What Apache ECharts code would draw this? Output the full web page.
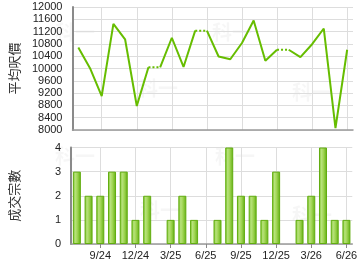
<!DOCTYPE html>
<html><head><meta charset="utf-8">
<script src="https://cdn.jsdelivr.net/npm/echarts@6/dist/echarts.min.js"></script>
<style>html,body{margin:0;padding:0;background:#fff}#c{width:360px;height:270px}</style>
</head><body><div id="c"></div>
<script>
const months = ['7/24','8/24','9/24','10/24','11/24','12/24','1/25','2/25','3/25','4/25','5/25','6/25','7/25','8/25','9/25','10/25','11/25','12/25','1/26','2/26','3/26','4/26','5/26','6/26'];
// average price per sq ft; null = no transaction that month (carried forward, dotted)
const avgPrice = [10680,10010,9100,11450,10950,8780,10040,null,11000,10050,11230,null,10390,10300,10830,11560,10250,10610,null,10370,10790,11300,8060,10610];
const deals = [3,2,2,3,3,1,2,0,1,2,1,0,1,4,2,2,1,3,0,1,2,4,1,1];
const priceTicks = {min:8000, max:12000, step:400};
const dealTicks = {min:0, max:4, step:1};

const n = months.length;
const filled = [];
for (let i = 0; i < n; i++) filled.push(avgPrice[i] === null ? filled[i-1] : avgPrice[i]);
const solidA = new Array(n).fill(null), solidB = new Array(n).fill(null), dotted = new Array(n).fill(null);
let segs = [], start = 0;
for (let i = 1; i < n; i++) {
  if (avgPrice[i] === null) { segs.push([start, i-1]); dotted[i-1] = filled[i-1]; dotted[i] = filled[i]; start = i; }
}
segs.push([start, n-1]);
segs.forEach((s, k) => { const arr = k % 2 ? solidB : solidA; for (let i = s[0]; i <= s[1]; i++) arr[i] = filled[i]; });
const dealBars = deals.map(v => v === 0 ? '-' : v);

const GREEN = '#66bd00';
const FONT = 'Liberation Sans, Arial, sans-serif';
const showIdx = (i) => i % 3 === 2;
const axisLineStyle = {lineStyle:{color:'#8a8a8a', width:2}};
const grids = [
  {left:65, width:288, top:7, height:123},
  {left:65, width:288, top:147.5, height:96.5}
];
const xCommon = (gi, showLabels) => ({
  type:'category', gridIndex:gi, data:months, boundaryGap:true,
  axisLine:{show:true, lineStyle:{color:'#9a9a9a', width:1.5}},
  axisTick:{show:showLabels, alignWithLabel:true, interval:showIdx, length:4, lineStyle:{color:'#888'}},
  axisLabel:{show:showLabels, interval:showIdx, color:'#222', fontSize:11, fontFamily:FONT, margin:6},
  splitLine:{show:true, alignWithLabel:true, interval:showIdx, lineStyle:{color:'#dddddd', width:1}}
});
const wm = (x, y) => ({type:'text', left:x, top:y, z:-1, style:{text:'科一', fill:'rgba(0,0,0,0.035)', font:'bold 20px "Noto Sans CJK TC"'}});
const yLabel = {color:'#222', fontSize:11, fontFamily:FONT, margin:10, formatter:(v) => String(v)};

const chart = echarts.init(document.getElementById('c'), null, {renderer:'canvas'});
chart.setOption({
  animation:false,
  backgroundColor:'#fff',
  grid:grids,
  graphic:[wm(55,22), wm(138,78), wm(212,22), wm(292,82), wm(55,146), wm(140,200), wm(215,146), wm(292,205)],
  xAxis:[xCommon(0,false), xCommon(1,true)],
  yAxis:[
    {type:'value', gridIndex:0, min:priceTicks.min, max:priceTicks.max, interval:priceTicks.step,
     name:'平均呎價', nameLocation:'middle', nameRotate:90, nameGap:50,
     nameTextStyle:{color:'#333', fontSize:13, fontFamily:'Noto Sans CJK TC'},
     axisLine:{show:true, ...axisLineStyle}, axisTick:{show:false},
     axisLabel:yLabel,
     splitLine:{lineStyle:{color:'#dddddd', width:1}}},
    {type:'value', gridIndex:1, min:dealTicks.min, max:dealTicks.max, interval:dealTicks.step,
     name:'成交宗數', nameLocation:'middle', nameRotate:90, nameGap:50,
     nameTextStyle:{color:'#333', fontSize:13, fontFamily:'Noto Sans CJK TC'},
     axisLine:{show:true, ...axisLineStyle}, axisTick:{show:false},
     axisLabel:yLabel,
     splitLine:{lineStyle:{color:'#dddddd', width:1}}}
  ],
  series:[
    {type:'line', xAxisIndex:0, yAxisIndex:0, data:solidA, symbol:'none', connectNulls:false, lineStyle:{color:GREEN, width:2}},
    {type:'line', xAxisIndex:0, yAxisIndex:0, data:solidB, symbol:'none', connectNulls:false, lineStyle:{color:GREEN, width:2}},
    {type:'line', xAxisIndex:0, yAxisIndex:0, data:dotted, symbol:'none', connectNulls:false, lineStyle:{color:GREEN, width:2, type:[2,2]}},
    {type:'bar', xAxisIndex:1, yAxisIndex:1, data:dealBars, barWidth:8,
     itemStyle:{borderColor:'#62ad10', borderWidth:1,
       color:new echarts.graphic.LinearGradient(0,0,1,0,[
         {offset:0, color:'#74c01c'},{offset:0.3, color:'#b7e27c'},{offset:0.55, color:'#a2d656'},{offset:1, color:'#5fae0e'}])}}
  ]
});
</script></body></html>
